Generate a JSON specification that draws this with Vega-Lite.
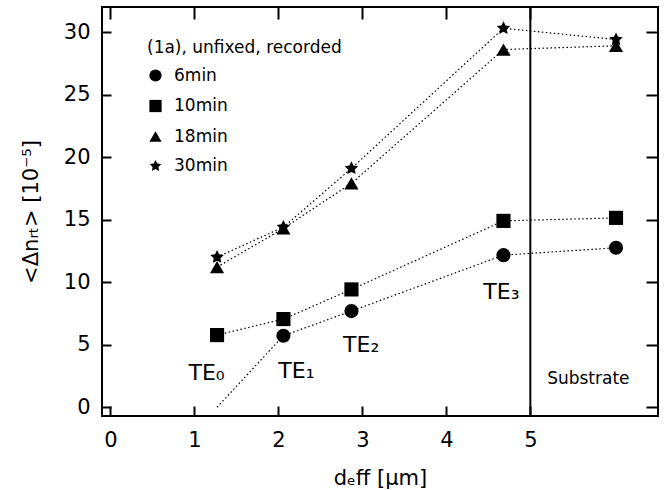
{
  "$schema": "https://vega.github.io/schema/vega-lite/v6.json",
  "width": 556,
  "height": 409,
  "autosize": {"type": "none"},
  "padding": {"left": 102, "top": 7, "right": 12, "bottom": 74},
  "background": "white",
  "config": {
    "view": {"stroke": "black", "strokeWidth": 2},
    "font": "DejaVu Sans",
    "axis": {
      "grid": false, "domain": false, "tickColor": "black", "tickWidth": 2, "zindex": 1,
      "labelColor": "black", "titleColor": "black", "labelFontSize": 21,
      "titleFontSize": 21, "titleFontWeight": "normal", "labelFont": "DejaVu Sans", "titleFont": "DejaVu Sans"
    }
  },
  "datasets": {
    "pts": [
      {"series": "6min", "d": 1.27, "v": 0},
      {"series": "6min", "d": 2.06, "v": 5.72},
      {"series": "6min", "d": 2.87, "v": 7.69},
      {"series": "6min", "d": 4.68, "v": 12.16},
      {"series": "6min", "d": 6.02, "v": 12.75},
      {"series": "10min", "d": 1.27, "v": 5.77},
      {"series": "10min", "d": 2.06, "v": 7.05},
      {"series": "10min", "d": 2.87, "v": 9.42},
      {"series": "10min", "d": 4.68, "v": 14.9},
      {"series": "10min", "d": 6.02, "v": 15.14},
      {"series": "18min", "d": 1.27, "v": 11.2},
      {"series": "18min", "d": 2.06, "v": 14.3},
      {"series": "18min", "d": 2.87, "v": 17.9},
      {"series": "18min", "d": 4.68, "v": 28.6},
      {"series": "18min", "d": 6.02, "v": 28.9},
      {"series": "30min", "d": 1.27, "v": 12.0},
      {"series": "30min", "d": 2.06, "v": 14.4},
      {"series": "30min", "d": 2.87, "v": 19.1},
      {"series": "30min", "d": 4.68, "v": 30.3},
      {"series": "30min", "d": 6.02, "v": 29.4}
    ],
    "labels": [
      {"d": 0.93, "v": 2.18, "label": "TE₀"},
      {"d": 2.0, "v": 2.36, "label": "TE₁"},
      {"d": 2.77, "v": 4.44, "label": "TE₂"},
      {"d": 4.44, "v": 8.65, "label": "TE₃"},
      {"d": 5.2, "v": 1.86, "label": "Substrate"}
    ],
    "boundary": [{"d": 5}]
  },
  "layer": [
    {
      "data": {"name": "pts"},
      "mark": {"type": "line", "color": "black", "strokeWidth": 1.2, "strokeDash": [1.5, 2.5]},
      "encoding": {
        "x": {"field": "d", "type": "quantitative",
              "scale": {"domain": [-0.1, 6.52], "nice": false, "zero": false},
              "axis": {"orient": "bottom", "values": [0, 1, 2, 3, 4, 5], "format": "d", "tickSize": -10, "labelPadding": 23, "title": "dₑff [μm]", "titlePadding": 17}},
        "y": {"field": "v", "type": "quantitative",
              "scale": {"domain": [-0.7, 32], "nice": false, "zero": false},
              "axis": {"orient": "left", "values": [0, 5, 10, 15, 20, 25, 30], "format": "d", "tickSize": -9, "labelPadding": 21, "title": "<Δnᵣₜ> [10⁻⁵]", "titlePadding": 22}},
        "detail": {"field": "series"},
        "order": {"field": "d"}
      }
    },
    {
      "data": {"name": "pts"},
      "transform": [{"filter": "datum.v > 0"}],
      "mark": {"type": "point", "filled": true, "color": "black", "opacity": 1, "size": 200},
      "encoding": {
        "x": {"field": "d", "type": "quantitative",
              "axis": {"orient": "top", "values": [0, 1, 2, 3, 4, 5], "tickSize": -12, "labels": false, "title": null}},
        "y": {"field": "v", "type": "quantitative",
              "axis": {"orient": "right", "values": [0, 5, 10, 15, 20, 25, 30], "tickSize": -12, "labels": false, "title": null}},
        "shape": {
          "field": "series", "type": "nominal",
          "scale": {"domain": ["6min", "10min", "18min", "30min"], "range": ["circle", "square", "triangle-up", "M0,-1L0.294,-0.405L0.951,-0.309L0.476,0.155L0.588,0.809L0,0.5L-0.588,0.809L-0.476,0.155L-0.951,-0.309L-0.294,-0.405Z"]},
          "legend": {
            "title": "(1a), unfixed, recorded", "orient": "none", "legendX": 45, "legendY": 33,
            "titleFontSize": 17, "titleFontWeight": "normal", "titleColor": "black", "titleFont": "DejaVu Sans", "titleLimit": 400,
            "labelFontSize": 17, "labelColor": "black", "labelFont": "DejaVu Sans",
            "symbolSize": 150, "symbolFillColor": "black", "symbolStrokeColor": "black",
            "rowPadding": 11.5, "titlePadding": 10, "labelOffset": 10
          }
        }
      }
    },
    {
      "data": {"name": "boundary"},
      "mark": {"type": "rule", "color": "black", "strokeWidth": 2},
      "encoding": {"x": {"field": "d", "type": "quantitative", "axis": null}}
    },
    {
      "data": {"name": "labels"},
      "transform": [{"filter": "datum.label != 'Substrate'"}],
      "mark": {"type": "text", "align": "left", "baseline": "alphabetic", "fontSize": 22, "color": "black", "font": "DejaVu Sans"},
      "encoding": {
        "x": {"field": "d", "type": "quantitative", "axis": null},
        "y": {"field": "v", "type": "quantitative", "axis": null},
        "text": {"field": "label"}
      }
    },
    {
      "data": {"name": "labels"},
      "transform": [{"filter": "datum.label == 'Substrate'"}],
      "mark": {"type": "text", "align": "left", "baseline": "alphabetic", "fontSize": 17, "color": "black", "font": "DejaVu Sans"},
      "encoding": {
        "x": {"field": "d", "type": "quantitative", "axis": null},
        "y": {"field": "v", "type": "quantitative", "axis": null},
        "text": {"field": "label"}
      }
    }
  ],
  "resolve": {"axis": {"x": "independent", "y": "independent"}}
}
